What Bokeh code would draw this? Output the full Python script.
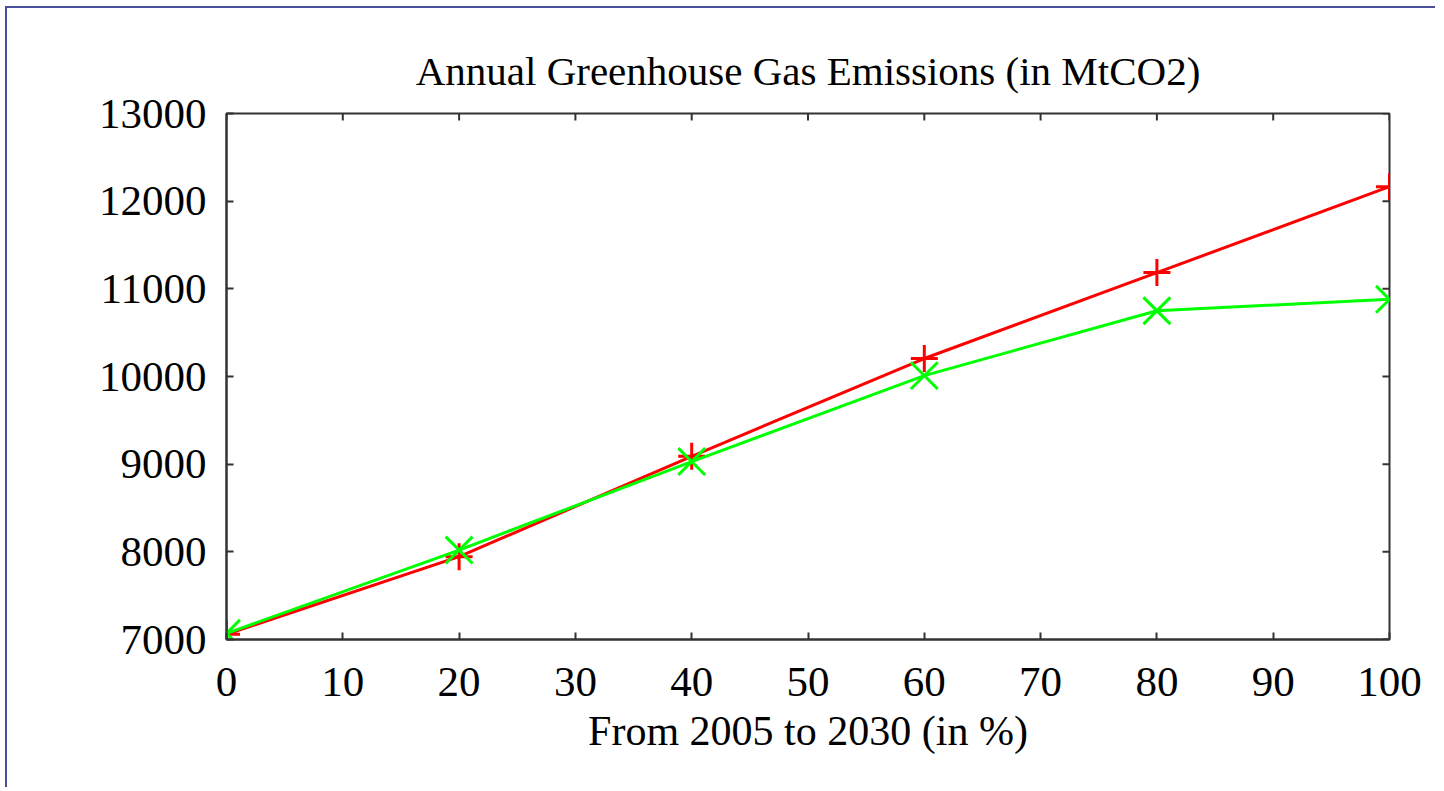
from bokeh.plotting import figure
from bokeh.models import Range1d, FixedTicker
from bokeh.embed import file_html
from bokeh.resources import INLINE

# ---- data ----
x_pct = [0, 20, 40, 60, 80, 100]
red_vals = [7060, 7945, 9090, 10205, 11185, 12165]
green_vals = [7070, 8020, 9030, 10010, 10750, 10880]
x_ticks = [0, 10, 20, 30, 40, 50, 60, 70, 80, 90, 100]
y_ticks = [7000, 8000, 9000, 10000, 11000, 12000, 13000]
title_text = "Annual Greenhouse Gas Emissions (in MtCO2)"
x_label = "From 2005 to 2030 (in %)"

FONT = "Liberation Serif"
W, H = 1430, 781
FL, FR, FT, FB = 219, 1382, 105, 631

p = figure(width=W, height=H, output_backend="svg", toolbar_location=None,
           x_range=Range1d(0, 100), y_range=Range1d(7000, 13000),
           min_border_left=FL, min_border_right=W - FR,
           min_border_top=FT, min_border_bottom=H - FB,
           background_fill_color="white", border_fill_color="white")
p.styles = {"border-left": "2px solid #4a4f9c", "border-top": "2px solid #4a4f9c",
            "margin-left": "5px", "margin-top": "6px"}

p.grid.visible = False
p.outline_line_color = "#333333"
p.outline_line_width = 2

p.title.text = title_text
p.title.align = "center"
p.title.text_font = FONT
p.title.text_font_size = "41px"
p.title.text_font_style = "normal"
p.title.text_color = "black"
p.title.standoff = 40

def style_axis(ax):
    ax.axis_line_color = "#333333"
    ax.axis_line_width = 2
    ax.major_tick_in = 7
    ax.major_tick_out = 0
    ax.minor_tick_line_color = None
    ax.major_tick_line_width = 2
    ax.major_tick_line_color = "#333333"
    ax.major_label_text_font = FONT
    ax.major_label_text_color = "black"
    ax.major_label_text_font_size = "43px"

style_axis(p.xaxis[0])
p.xaxis[0].ticker = FixedTicker(ticks=x_ticks)
p.xaxis[0].major_label_standoff = 28
p.xaxis[0].axis_label = x_label
p.xaxis[0].axis_label_text_font = FONT
p.xaxis[0].axis_label_text_font_size = "42px"
p.xaxis[0].axis_label_text_font_style = "normal"
p.xaxis[0].axis_label_text_color = "black"
p.xaxis[0].axis_label_standoff = 9

style_axis(p.yaxis[0])
p.yaxis[0].ticker = FixedTicker(ticks=y_ticks)
p.yaxis[0].major_label_standoff = 20

# mirrored inward ticks on top and right edges (clipped to the frame)
p.scatter(x_ticks, [13000] * len(x_ticks), marker="dash", angle=1.5708,
          size=14, line_color="#333333", line_width=2)
p.scatter([100] * len(y_ticks), y_ticks, marker="dash",
          size=14, line_color="#333333", line_width=2)

RED = "#ff0000"
GREEN = "#00ff00"
p.line(x_pct, red_vals, line_color=RED, line_width=3)
p.scatter(x_pct, red_vals, marker="cross", size=27, line_color=RED, line_width=3)
p.line(x_pct, green_vals, line_color=GREEN, line_width=3)
p.scatter(x_pct, green_vals, marker="x", size=38, line_color=GREEN, line_width=3)

open("out.html", "w").write(file_html(p, INLINE))
